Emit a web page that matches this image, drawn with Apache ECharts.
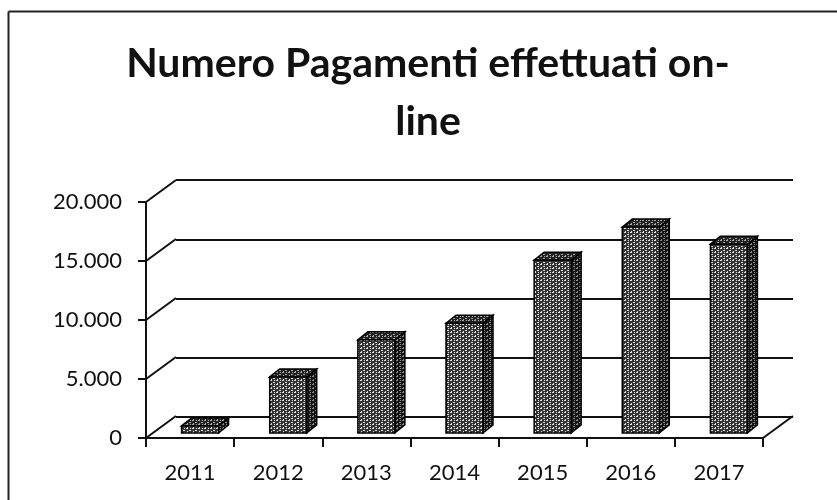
<!DOCTYPE html>
<html>
<head>
<meta charset="utf-8">
<style>
  html, body { margin: 0; padding: 0; background: #fff; }
  #box1 { width: 837px; height: 500px; }
</style>
<script src="https://cdn.jsdelivr.net/npm/echarts@6/dist/echarts.min.js"></script>
</head>
<body>
<div id="box1"></div>
<script>
var titleText = 'Numero Pagamenti effettuati on-\nline';
var categories = ['2011', '2012', '2013', '2014', '2015', '2016', '2017'];
var pagamenti = [600, 4750, 7900, 9300, 14650, 17450, 16000];
var yTicks = [0, 5000, 10000, 15000, 20000];
var yTickLabels = ['0', '5.000', '10.000', '15.000', '20.000'];

// fake 3d: pixel offsets of the back wall and of the bars
var wallDX = 30, wallDY = 22;
var barShiftX = 10, barShiftY = 5, barDX = 10, barDY = 8;
var barWidth = 37;
var lineColor = '#111';

// scanned look, dashes on a dark ground
function texture(bg, dash, w, h) {
  var c = document.createElement('canvas');
  c.width = w;
  c.height = h;
  var ctx = c.getContext('2d');
  ctx.fillStyle = bg;
  ctx.fillRect(0, 0, w, h);
  ctx.fillStyle = dash;
  ctx.fillRect(0, 0, 2, 1);
  ctx.fillRect(3, 2, 2, 1);
  ctx.fillRect(1, 3, 1, 1);
  ctx.fillRect(4, 0, 1, 1);
  return c;
}
var frontFill = { image: texture('#333', '#ddd', 6, 4), repeat: 'repeat' };
var sideFill = { image: texture('#141414', '#8a8a8a', 6, 4), repeat: 'repeat' };
var topFill = { image: texture('#222', '#a8a8a8', 6, 4), repeat: 'repeat' };

function renderBar(params, api) {
  var top = api.coord([api.value(0), api.value(1)]);
  var base = api.coord([api.value(0), 0]);
  var x0 = top[0] - barWidth / 2 + barShiftX;
  var x1 = x0 + barWidth;
  var y0 = top[1] - barShiftY;
  var y1 = base[1] - barShiftY;
  var edge = { stroke: '#000', lineWidth: 1.5 };
  function poly(points, fill) {
    return {
      type: 'polygon',
      shape: { points: points },
      style: Object.assign({ fill: fill }, edge)
    };
  }
  return {
    type: 'group',
    children: [
      poly([[x1, y1], [x1 + barDX, y1 - barDY], [x1 + barDX, y0 - barDY], [x1, y0]], sideFill),
      poly([[x0, y0], [x0 + barDX, y0 - barDY], [x1 + barDX, y0 - barDY], [x1, y0]], topFill),
      poly([[x0, y0], [x1, y0], [x1, y1], [x0, y1]], frontFill)
    ]
  };
}

// diagonals that join the front axis to the back wall
function renderWallLink(params, api) {
  var y = api.coord([0, api.value(0)])[1];
  var x = params.coordSys.x;
  return {
    type: 'line',
    shape: { x1: x, y1: y, x2: x + wallDX, y2: y - wallDY },
    style: { stroke: lineColor, lineWidth: 2, fill: null }
  };
}

function renderFloorEdge(params, api) {
  var y = api.coord([0, 0])[1];
  var x = params.coordSys.x + params.coordSys.width;
  return {
    type: 'line',
    shape: { x1: x, y1: y, x2: x + wallDX, y2: y - wallDY },
    style: { stroke: lineColor, lineWidth: 2, fill: null }
  };
}

var myChart = echarts.init(document.getElementById('box1'), null, { renderer: 'canvas' });

var option = {
  animation: false,
  backgroundColor: '#fff',
  title: {
    text: titleText,
    left: 423,
    top: 30,
    textAlign: 'center',
    textStyle: {
      fontFamily: 'Lato',
      fontSize: 41,
      fontWeight: 'bold',
      lineHeight: 58,
      color: '#111'
    }
  },
  graphic: [
    { type: 'line', silent: true, shape: { x1: 8.5, y1: 11.5, x2: 837, y2: 11.5 }, style: { stroke: '#222', lineWidth: 2 } },
    { type: 'line', silent: true, shape: { x1: 8.5, y1: 11.5, x2: 8.5, y2: 500 }, style: { stroke: '#222', lineWidth: 2 } }
  ],
  grid: [
    { left: 146, top: 202, width: 617, height: 236 },
    { left: 176, top: 180, width: 617, height: 237 }
  ],
  xAxis: [
    {
      type: 'category',
      gridIndex: 0,
      data: categories,
      axisLine: { lineStyle: { color: lineColor, width: 2 } },
      axisTick: { show: true, length: 9, alignWithLabel: false, lineStyle: { color: lineColor, width: 2 } },
      axisLabel: { fontFamily: 'Lato', fontSize: 22, color: '#111', margin: 24 }
    },
    { type: 'category', gridIndex: 1, data: categories, show: false }
  ],
  yAxis: [
    {
      type: 'value',
      gridIndex: 0,
      min: 0,
      max: 20000,
      interval: 5000,
      axisLine: { show: true, lineStyle: { color: lineColor, width: 2 } },
      axisTick: { show: true, length: 8, lineStyle: { color: lineColor, width: 2 } },
      splitLine: { show: false },
      axisLabel: {
        fontFamily: 'Lato',
        fontSize: 22,
        color: '#111',
        margin: 24,
        formatter: function (v) { return yTickLabels[yTicks.indexOf(v)]; }
      }
    },
    {
      type: 'value',
      gridIndex: 1,
      min: 0,
      max: 20000,
      interval: 5000,
      axisLine: { show: false },
      axisTick: { show: false },
      axisLabel: { show: false },
      splitLine: { show: true, lineStyle: { color: lineColor, width: 2 } }
    }
  ],
  series: [
    {
      type: 'custom',
      name: 'links',
      xAxisIndex: 0,
      yAxisIndex: 0,
      silent: true,
      renderItem: renderWallLink,
      encode: { y: 0 },
      data: yTicks,
      z: 1
    },
    {
      type: 'custom',
      name: 'floor',
      xAxisIndex: 0,
      yAxisIndex: 0,
      silent: true,
      renderItem: renderFloorEdge,
      encode: { y: 0 },
      data: [0],
      z: 1
    },
    {
      type: 'custom',
      name: 'Pagamenti',
      xAxisIndex: 0,
      yAxisIndex: 0,
      renderItem: renderBar,
      encode: { x: 0, y: 1 },
      data: pagamenti.map(function (v, i) { return [i, v]; }),
      z: 3
    }
  ]
};

if (option && typeof option === 'object') {
  myChart.setOption(option);
}
</script>
</body>
</html>
